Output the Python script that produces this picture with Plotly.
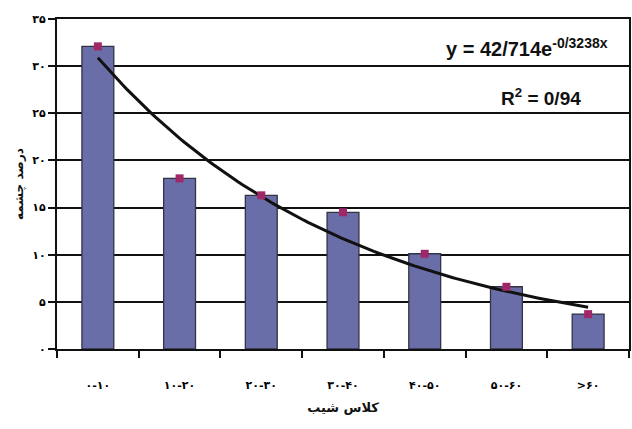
import numpy as np
import plotly.graph_objects as go

categories = ["۰-۱۰", "۱۰-۲۰", "۲۰-۳۰", "۳۰-۴۰", "۴۰-۵۰", "۵۰-۶۰", ">۶۰"]
percent = [32.1, 18.1, 16.3, 14.5, 10.1, 6.6, 3.7]
y_tick_values = [0, 5, 10, 15, 20, 25, 30, 35]
y_tick_labels = ["۰", "۵", "۱۰", "۱۵", "۲۰", "۲۵", "۳۰", "۳۵"]
trend_a = 42.714
trend_b = -0.3238

pos = list(range(len(categories)))
tx = np.linspace(1, len(categories), 120)
ty = trend_a * np.exp(trend_b * tx)

fig = go.Figure()
fig.add_trace(go.Bar(
    x=pos, y=percent, width=0.39,
    marker=dict(color="#6A6EA8", line=dict(color="#333344", width=1.3)),
    showlegend=False,
))
fig.add_trace(go.Scatter(
    x=tx - 1, y=ty, mode="lines",
    line=dict(color="#111111", width=3), showlegend=False,
))
fig.add_trace(go.Scatter(
    x=pos, y=percent, mode="markers",
    marker=dict(symbol="square", size=8, color="#A02868"),
    showlegend=False,
))

fig.update_layout(
    width=632, height=429,
    margin=dict(l=57, r=3, t=19, b=80),
    plot_bgcolor="white", paper_bgcolor="white",
    bargap=0.6,
    font=dict(family="DejaVu Sans", color="#111111"),
)
fig.update_xaxes(
    automargin=False,
    range=[-0.5, 6.5],
    tickvals=pos, ticktext=["<b>%s</b>" % c for c in categories],
    tickfont=dict(size=11, family="DejaVu Sans", color="#000000"),
    ticks="", showgrid=False,
    showline=True, linecolor="#111111", linewidth=2, mirror=True,
    minor=dict(ticks="outside", tick0=-0.5, dtick=1, ticklen=7,
               tickcolor="#111111", tickwidth=1.5, showgrid=False),
    ticklabelstandoff=25,
    title=dict(text="<b>کلاس شیب</b>", font=dict(size=13, family="DejaVu Sans"),
               standoff=12),
    zeroline=False,
)
fig.update_yaxes(
    automargin=False,
    range=[0, 35],
    tickvals=y_tick_values, ticktext=["<b>%s</b>" % t for t in y_tick_labels],
    tickfont=dict(size=11, family="DejaVu Sans", color="#000000"),
    ticks="outside", ticklen=7, tickcolor="#111111", tickwidth=1.5,
    showgrid=True, gridcolor="#111111", gridwidth=2,
    showline=True, linecolor="#111111", linewidth=2, mirror=True,
    zeroline=False,
    title=dict(text="<b>درصد چشمه</b>", font=dict(size=12, family="DejaVu Sans"),
               standoff=6),
)
fig.add_annotation(
    xref="paper", yref="paper", x=0.676, y=0.915, xanchor="left", yanchor="middle",
    text="<b>y = 42/714e<sup>-0/3238x</sup></b>", showarrow=False,
    font=dict(size=20, family="Liberation Sans", color="#111111"),
)
fig.add_annotation(
    xref="paper", yref="paper", x=0.846, y=0.764, xanchor="center", yanchor="middle",
    text="<b>R<sup>2</sup> = 0/94</b>", showarrow=False,
    font=dict(size=19, family="Liberation Sans", color="#111111"),
)
fig.write_html("out.html", config={"displayModeBar": False},
               post_script="document.body.style.margin='0';")
